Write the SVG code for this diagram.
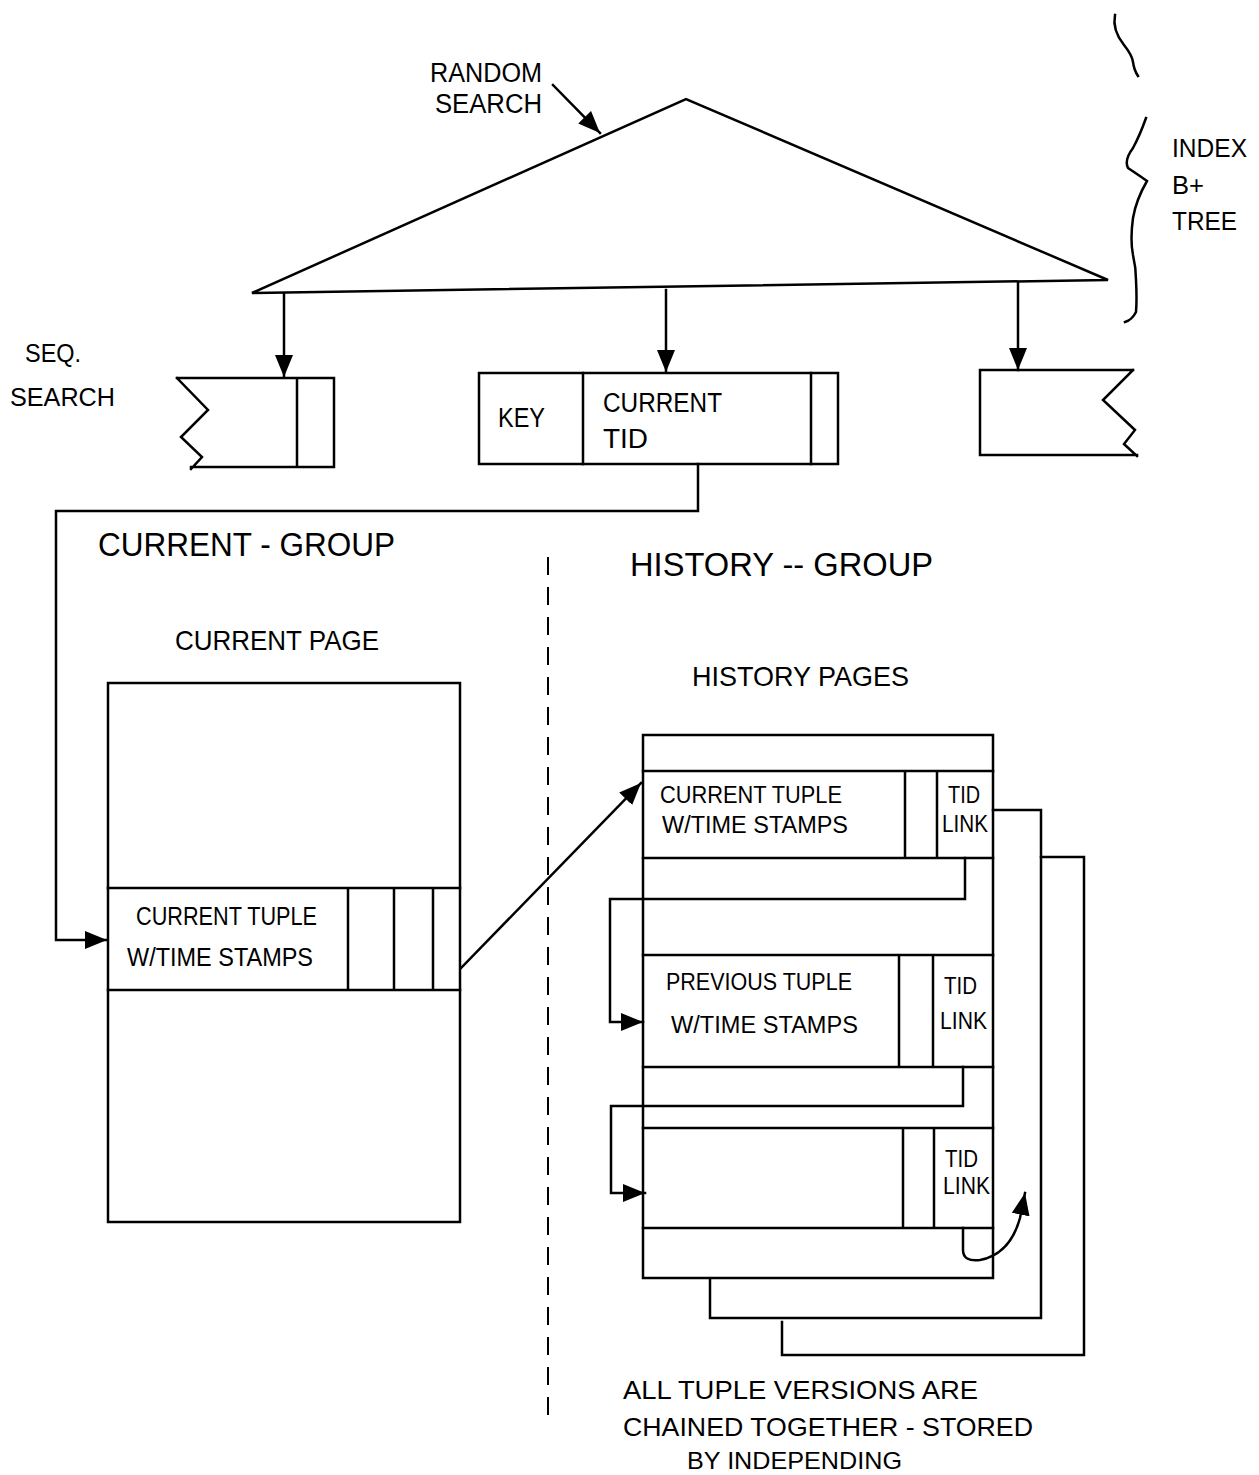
<svg xmlns="http://www.w3.org/2000/svg" width="1259" height="1475" viewBox="0 0 1259 1475">
<style>
.s{fill:none;stroke:#000;stroke-width:2.5;stroke-linejoin:miter;stroke-linecap:square}
.t{font-family:"Liberation Sans",Arial,sans-serif;fill:#000}
.a{marker-end:url(#ah)}
</style>
<defs>
<marker id="ah" markerUnits="userSpaceOnUse" markerWidth="24" markerHeight="20" refX="22" refY="10" orient="auto">
<path d="M0,1 L22,10 L0,19 z" fill="#000"/>
</marker>
</defs>
<rect width="1259" height="1475" fill="#fff"/>

<g id="index-tree">
<path class="s" d="M252,293 L686,99 L1108,280 Z"/>
<path class="s" d="M1115,15 Q1112,30 1124,45 Q1132,55 1133,62 Q1134,70 1138,76"/>
<path class="s" d="M1146,118 Q1140,135 1133,148 Q1124,160 1128,168 Q1140,176 1147,181 Q1136,200 1133,218 Q1130,240 1133,255 Q1136,268 1136,280 Q1137,300 1136,312 Q1132,320 1125,322"/>
<text class="t" x="1172" y="157" font-size="26" textLength="75" lengthAdjust="spacingAndGlyphs">INDEX</text>
<text class="t" x="1172" y="194" font-size="26" textLength="32" lengthAdjust="spacingAndGlyphs">B+</text>
<text class="t" x="1172" y="230" font-size="26" textLength="65" lengthAdjust="spacingAndGlyphs">TREE</text>
</g>

<g id="random-search">
<text class="t" x="430" y="82" font-size="27" textLength="112" lengthAdjust="spacingAndGlyphs">RANDOM</text>
<text class="t" x="435" y="113" font-size="27" textLength="107" lengthAdjust="spacingAndGlyphs">SEARCH</text>
</g>

<g id="seq-search">
<text class="t" x="25" y="362" font-size="25" textLength="56" lengthAdjust="spacingAndGlyphs">SEQ.</text>
<text class="t" x="10" y="406" font-size="25" textLength="105" lengthAdjust="spacingAndGlyphs">SEARCH</text>
</g>

<g id="leaf-left">
<path class="s" d="M177,378 L334,378 L334,467 L191,467 M177,378 L208,410 L181,437 L202,457 L191,469 M297,378 L297,467"/>
</g>

<g id="leaf-middle">
<rect class="s" x="479" y="373" width="359" height="91"/>
<path class="s" d="M583,373 V464 M811,373 V464"/>
<text class="t" x="498" y="427" font-size="27" textLength="47" lengthAdjust="spacingAndGlyphs">KEY</text>
<text class="t" x="603" y="412" font-size="27" textLength="119" lengthAdjust="spacingAndGlyphs">CURRENT</text>
<text class="t" x="603" y="448" font-size="27" textLength="45" lengthAdjust="spacingAndGlyphs">TID</text>
</g>

<g id="leaf-right">
<path class="s" d="M1133,370 L980,370 L980,455 L1137,455 M1133,370 L1103,400 L1135,430 L1124,444 L1137,456"/>
</g>

<g id="labels">
<text class="t" x="98" y="556" font-size="34" textLength="297" lengthAdjust="spacingAndGlyphs">CURRENT - GROUP</text>
<text class="t" x="630" y="576" font-size="34" textLength="303" lengthAdjust="spacingAndGlyphs">HISTORY -- GROUP</text>
<text class="t" x="175" y="650" font-size="28" textLength="204" lengthAdjust="spacingAndGlyphs">CURRENT PAGE</text>
<text class="t" x="692" y="686" font-size="28" textLength="217" lengthAdjust="spacingAndGlyphs">HISTORY PAGES</text>
<text class="t" x="623" y="1399" font-size="25" textLength="355" lengthAdjust="spacingAndGlyphs">ALL TUPLE VERSIONS ARE</text>
<text class="t" x="623" y="1436" font-size="25" textLength="410" lengthAdjust="spacingAndGlyphs">CHAINED TOGETHER - STORED</text>
<text class="t" x="687" y="1469" font-size="24" textLength="215" lengthAdjust="spacingAndGlyphs">BY INDEPENDING</text>
</g>

<g id="current-page">
<rect class="s" x="108" y="683" width="352" height="539"/>
<path class="s" d="M108,888 H460 M108,990 H460 M348,888 V990 M394,888 V990 M433,888 V990"/>
<text class="t" x="136" y="925" font-size="25" textLength="181" lengthAdjust="spacingAndGlyphs">CURRENT TUPLE</text>
<text class="t" x="127" y="966" font-size="25" textLength="186" lengthAdjust="spacingAndGlyphs">W/TIME STAMPS</text>
</g>

<g id="history-page-3">
<path class="s" d="M1041,857 H1084 V1355 H782 V1322"/>
</g>
<g id="history-page-2">
<path class="s" d="M993,810 H1041 V1318 H710 V1280"/>
</g>

<g id="history-page-1">
<rect class="s" x="643" y="735" width="350" height="543"/>
<path class="s" d="M643,771 H993 M643,858 H993 M905,771 V858 M937,771 V858"/>
<path class="s" d="M643,955 H993 M643,1067 H993 M899,955 V1067 M933,955 V1067"/>
<path class="s" d="M643,1128 H993 M643,1228 H993 M903,1128 V1228 M934,1128 V1228"/>
<text class="t" x="660" y="803" font-size="23" textLength="182" lengthAdjust="spacingAndGlyphs">CURRENT TUPLE</text>
<text class="t" x="662" y="833" font-size="23" textLength="186" lengthAdjust="spacingAndGlyphs">W/TIME STAMPS</text>
<text class="t" x="948" y="803" font-size="23" textLength="32" lengthAdjust="spacingAndGlyphs">TID</text>
<text class="t" x="942" y="832" font-size="23" textLength="46" lengthAdjust="spacingAndGlyphs">LINK</text>
<text class="t" x="666" y="990" font-size="23" textLength="186" lengthAdjust="spacingAndGlyphs">PREVIOUS TUPLE</text>
<text class="t" x="671" y="1033" font-size="23" textLength="187" lengthAdjust="spacingAndGlyphs">W/TIME STAMPS</text>
<text class="t" x="944" y="994" font-size="23" textLength="33" lengthAdjust="spacingAndGlyphs">TID</text>
<text class="t" x="940" y="1029" font-size="23" textLength="47" lengthAdjust="spacingAndGlyphs">LINK</text>
<text class="t" x="945" y="1167" font-size="23" textLength="33" lengthAdjust="spacingAndGlyphs">TID</text>
<text class="t" x="943" y="1194" font-size="23" textLength="47" lengthAdjust="spacingAndGlyphs">LINK</text>
</g>

<g id="divider">
<line x1="548" y1="557" x2="548" y2="1420" stroke="#000" stroke-width="2" stroke-dasharray="18,12"/>
</g>

<g id="connectors">
<path class="s a" d="M553,85 L600,133"/>
<path class="s a" d="M284,294 V377"/>
<path class="s a" d="M666,290 V372"/>
<path class="s a" d="M1018,282 V370"/>
<path class="s a" d="M698,464 V511 H56 V940 H107"/>
<path class="s a" d="M461,968 L641,783"/>
<path class="s a" d="M965,858 V899 H610 V1022 H643"/>
<path class="s a" d="M963,1067 V1106 H611 V1193 H645"/>
<path class="s a" d="M963,1228 V1250 Q963,1262 980,1260 Q1010,1254 1020,1218 L1025,1193"/>
</g>
</svg>
